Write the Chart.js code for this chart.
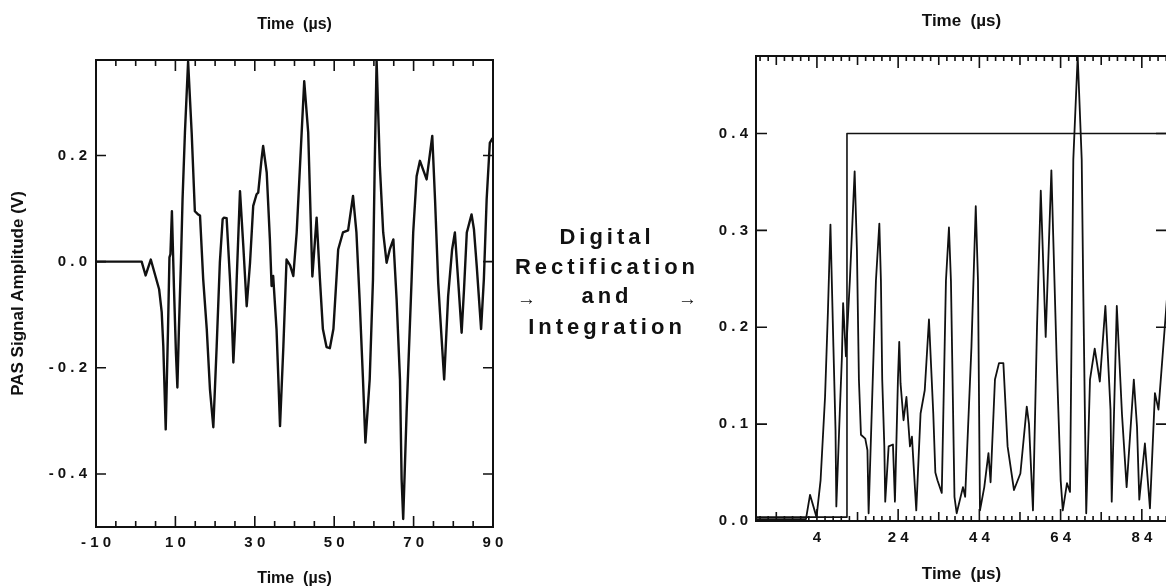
<!DOCTYPE html>
<html>
<head>
<meta charset="utf-8">
<script src="https://cdn.jsdelivr.net/npm/chart.js@4.4.1/dist/chart.umd.min.js"></script>
<style>
  html, body { margin: 0; padding: 0; background: #fff; width: 1166px; height: 588px; overflow: hidden; }
  .panel { position: absolute; top: 0; height: 588px; }
  #leftPanel { left: 0; width: 520px; }
  #rightPanel { left: 690px; width: 500px; }
  #caption {
    position: absolute; left: 512px; top: 222px; width: 190px;
    font: bold 22px 'Liberation Sans', Arial, sans-serif;
    letter-spacing: 4px; line-height: 29.5px; text-align: center; color: #111;
  }
  #caption .arrows { display: flex; justify-content: space-between; align-items: baseline; padding: 0 5px; }
  #caption .arr { font-weight: normal; font-size: 19px; letter-spacing: 0; position: relative; top: 2px; }
</style>
</head>
<body>
<div id="leftPanel" class="panel"><canvas id="leftChart"></canvas></div>
<div id="rightPanel" class="panel"><canvas id="rightChart"></canvas></div>
<div id="caption">
  <div>Digital</div>
  <div>Rectification</div>
  <div class="arrows"><span class="arr">&rarr;</span><span>and</span><span class="arr">&rarr;</span></div>
  <div>Integration</div>
</div>
<script>
const INK = '#111';
const FONT = "'Liberation Sans', Arial, Helvetica, sans-serif";

// raw PAS signal: time (µs) and amplitude (V)
const leftTime = [-10, 1.5, 2.5, 3.8, 5.9, 6.55, 6.95, 7.56, 8.14, 8.5, 8.75, 9.12, 9.65, 10.13, 10.5,
  10.88, 11.4, 11.8, 12.4, 13.2, 14.1, 14.9, 15.7, 16.2, 17.0, 17.9, 18.7, 19.55, 20.4, 21.2, 21.9,
  22.2, 22.9, 23.75, 24.26, 24.6, 25.0, 25.44, 26.27, 27.1, 27.96, 28.8, 29.6, 30.45, 30.86, 31.7,
  32.1, 33.0, 33.8, 34.23, 34.63, 35.47, 35.94, 36.35, 37.2, 38.0, 38.9, 39.7, 40.55, 41.8, 42.45,
  43.45, 44.3, 44.5, 45.57, 46.4, 47.15, 48.07, 48.9, 49.8, 50.56, 51.0, 52.2, 53.5, 54.74, 55.6,
  56.4, 57.25, 57.86, 58.94, 59.77, 60.2, 60.68, 61.5, 62.34, 63.2, 64.0, 64.9, 65.72, 66.57, 66.98,
  67.38, 68.24, 69.5, 69.9, 70.76, 71.6, 73.28, 74.7, 75.4, 76.2, 76.65, 77.7, 78.7, 79.7, 80.4,
  81.2, 82.1, 82.7, 83.4, 84.6, 85.2, 85.9, 87.0, 87.7, 88.4, 89.2, 89.9];
const leftAmp = [0, 0, -0.026, 0.004, -0.052, -0.095, -0.159, -0.316, -0.127, 0.008, 0.014, 0.095,
  -0.052, -0.171, -0.237, -0.128, 0.0, 0.117, 0.243, 0.377, 0.243, 0.095, 0.089, 0.087, -0.033,
  -0.127, -0.24, -0.312, -0.159, -0.001, 0.08, 0.083, 0.082, -0.033, -0.115, -0.19, -0.128, -0.033,
  0.133, 0.03, -0.084, -0.002, 0.105, 0.127, 0.13, 0.193, 0.218, 0.168, 0.042, -0.046, -0.027,
  -0.127, -0.222, -0.31, -0.159, 0.004, -0.007, -0.027, 0.055, 0.243, 0.34, 0.243, 0.023, -0.028,
  0.083, -0.033, -0.127, -0.161, -0.163, -0.127, -0.033, 0.023, 0.055, 0.059, 0.124, 0.055, -0.071,
  -0.222, -0.341, -0.222, -0.033, 0.18, 0.379, 0.18, 0.055, -0.002, 0.023, 0.042, -0.071, -0.222,
  -0.41, -0.485, -0.284, -0.033, 0.055, 0.161, 0.19, 0.155, 0.237, 0.117, -0.04, -0.096, -0.222,
  -0.065, 0.023, 0.055, -0.033, -0.134, -0.052, 0.055, 0.089, 0.061, -0.008, -0.127, -0.033, 0.117,
  0.224, 0.233];

// rectified signal
const rightTime = [-11, 1.3, 2.3, 3.9, 4.9, 6.0, 6.7, 7.33, 8.06, 8.58, 8.78, 9.62, 10.16, 10.45,
  11.14, 12.13, 13.29, 13.85, 14.34, 14.84, 15.9, 16.44, 16.73, 18.0, 18.53, 19.37, 19.76, 20.08,
  20.6, 20.82, 21.66, 22.72, 23.21, 23.95, 24.27, 24.59, 25.33, 26.04, 26.91, 27.4, 28.46, 29.52,
  30.55, 31.59, 32.65, 33.16, 33.68, 34.74, 35.77, 36.51, 37.0, 37.87, 38.41, 39.96, 40.5, 42.05,
  43.11, 43.66, 44.15, 45.21, 46.24, 46.76, 47.84, 48.83, 49.91, 50.95, 52.52, 54.1, 55.67, 56.22,
  57.2, 58.19, 59.12, 60.33, 61.73, 63.04, 64.02, 64.54, 65.58, 66.32, 67.13, 68.21, 69.2, 69.59,
  70.31, 71.24, 72.4, 73.66, 75.03, 76.29, 76.59, 77.84, 79.12, 80.26, 82.03, 82.82, 83.38, 84.76,
  86.0, 87.23, 88.1, 89.65, 90.2];
const rightAmp = [0.002, 0.002, 0.027, 0.004, 0.042, 0.128, 0.215, 0.306, 0.18, 0.094, 0.015, 0.111,
  0.17, 0.225, 0.17, 0.25, 0.361, 0.28, 0.146, 0.089, 0.085, 0.073, 0.008, 0.18, 0.248, 0.307, 0.248,
  0.146, 0.077, 0.02, 0.077, 0.079, 0.02, 0.146, 0.185, 0.142, 0.104, 0.128, 0.077, 0.087, 0.011,
  0.111, 0.135, 0.208, 0.111, 0.05, 0.042, 0.029, 0.248, 0.303, 0.248, 0.025, 0.008, 0.035, 0.025,
  0.18, 0.325, 0.248, 0.011, 0.035, 0.07, 0.04, 0.146, 0.163, 0.163, 0.077, 0.032, 0.049, 0.118, 0.1,
  0.011, 0.2, 0.341, 0.19, 0.362, 0.166, 0.042, 0.011, 0.039, 0.03, 0.373, 0.48, 0.373, 0.235, 0.008,
  0.146, 0.178, 0.144, 0.222, 0.115, 0.02, 0.222, 0.11, 0.035, 0.146, 0.097, 0.022, 0.08, 0.013,
  0.132, 0.115, 0.2, 0.23];

// integration gate
const gateTime = [-11, 11.4, 11.4, 90.2];
const gateLevel = [0.004, 0.004, 0.4, 0.4];

// labelled ticks
const leftXLabels = [-10, 10, 30, 50, 70, 90];
const leftYLabels = [-0.4, -0.2, 0.0, 0.2];
const rightXLabels = [4, 24, 44, 64, 84];
const rightYLabels = [0.0, 0.1, 0.2, 0.3, 0.4];

const toPoints = (xs, ys) => xs.map((x, i) => ({ x, y: ys[i] }));
// old plotter look: every character separated
const spaced = s => s.split('').join(' ');

// box frame with inward tick marks on all four sides
function frameTicks(xTicks, yTicks) {
  return {
    id: 'frameTicks',
    afterDatasetsDraw(chart) {
      const { ctx, chartArea: a, scales } = chart;
      ctx.save();
      ctx.strokeStyle = INK;
      ctx.lineWidth = 2;
      ctx.strokeRect(a.left, a.top, a.right - a.left, a.bottom - a.top);
      ctx.lineWidth = 1.6;
      ctx.beginPath();
      xTicks.forEach(([v, len]) => {
        const px = scales.x.getPixelForValue(v);
        ctx.moveTo(px, a.bottom); ctx.lineTo(px, a.bottom - len);
        ctx.moveTo(px, a.top); ctx.lineTo(px, a.top + len);
      });
      yTicks.forEach(([v, len]) => {
        const py = scales.y.getPixelForValue(v);
        ctx.moveTo(a.left, py); ctx.lineTo(a.left + len, py);
        ctx.moveTo(a.right, py); ctx.lineTo(a.right - len, py);
      });
      ctx.stroke();
      ctx.restore();
    }
  };
}

Chart.defaults.font.family = FONT;
Chart.defaults.font.weight = 'bold';
Chart.defaults.color = INK;

function axisTitle(text, size, pad) {
  return { display: true, text, color: INK, font: { size, weight: 'bold' }, padding: { top: pad, bottom: pad } };
}

function buildChart(canvasId, cfg) {
  return new Chart(document.getElementById(canvasId), {
    type: 'line',
    data: { datasets: cfg.datasets },
    options: {
      animation: false,
      responsive: true,
      maintainAspectRatio: false,
      layout: { padding: { right: cfg.padRight } },
      plugins: { legend: { display: false }, tooltip: { enabled: false } },
      elements: { point: { radius: 0 }, line: { tension: 0, borderJoinStyle: 'round' } },
      scales: {
        x: {
          type: 'linear', position: 'bottom', min: cfg.xMin, max: cfg.xMax,
          grid: { display: false, drawTicks: false }, border: { display: false },
          afterBuildTicks: ax => { ax.ticks = cfg.xLabels.map(value => ({ value })); },
          afterFit: ax => { ax.height = cfg.bottomH; },
          ticks: {
            autoSkip: false, maxRotation: 0, padding: cfg.xPad, color: INK,
            font: { size: 15, weight: 'bold' },
            callback: v => spaced(String(v))
          },
          title: axisTitle('Time  (\u00b5s)', cfg.titleSize, cfg.bottomTitlePad)
        },
        xTop: {
          type: 'linear', position: 'top', min: cfg.xMin, max: cfg.xMax,
          grid: { display: false, drawTicks: false }, border: { display: false },
          ticks: { display: false },
          afterFit: ax => { ax.height = cfg.topH; },
          title: axisTitle('Time  (\u00b5s)', cfg.titleSize, cfg.topTitlePad)
        },
        y: {
          type: 'linear', position: 'left', min: cfg.yMin, max: cfg.yMax,
          grid: { display: false, drawTicks: false }, border: { display: false },
          afterBuildTicks: ax => { ax.ticks = cfg.yLabels.map(value => ({ value })); },
          afterFit: ax => { ax.width = cfg.leftW; },
          ticks: {
            autoSkip: false, padding: cfg.yPad, color: INK,
            font: { size: 15, weight: 'bold' },
            callback: v => spaced(v.toFixed(1))
          },
          title: cfg.yTitle ? axisTitle(cfg.yTitle, 17, 8) : { display: false }
        }
      }
    },
    plugins: [frameTicks(cfg.xTickMarks, cfg.yTickMarks)]
  });
}

// tick marks: minor every 5 µs on the raw signal, every 2 µs on the rectified one
const leftXTickMarks = [];
for (let v = -10; v <= 90; v += 5) leftXTickMarks.push([v, leftXLabels.includes(v) ? 11 : 6]);
const rightXTickMarks = [];
for (let v = -10; v <= 90; v += 2) {
  const len = rightXLabels.includes(v) ? 12 : ((v - 4) % 10 === 0 ? 9 : 5);
  rightXTickMarks.push([v, len]);
}

buildChart('leftChart', {
  datasets: [{
    data: toPoints(leftTime, leftAmp), xAxisID: 'x', yAxisID: 'y',
    borderColor: INK, borderWidth: 2.4
  }],
  xMin: -10, xMax: 90, yMin: -0.5, yMax: 0.38,
  xLabels: leftXLabels, yLabels: leftYLabels,
  leftW: 96, padRight: 27, topH: 60, bottomH: 61,
  xPad: 7, yPad: 9, titleSize: 16, topTitlePad: 15, bottomTitlePad: 0,
  yTitle: 'PAS Signal Amplitude (V)',
  xTickMarks: leftXTickMarks,
  yTickMarks: leftYLabels.map(v => [v, 10])
});

buildChart('rightChart', {
  datasets: [
    { data: toPoints(rightTime, rightAmp), xAxisID: 'x', yAxisID: 'y', borderColor: INK, borderWidth: 1.8 },
    { data: toPoints(gateTime, gateLevel), xAxisID: 'x', yAxisID: 'y', borderColor: INK, borderWidth: 1.6 }
  ],
  xMin: -11, xMax: 90.2, yMin: 0, yMax: 0.48,
  xLabels: rightXLabels, yLabels: rightYLabels,
  leftW: 66, padRight: 23, topH: 56, bottomH: 67,
  xPad: 8, yPad: 8, titleSize: 17, topTitlePad: 11, bottomTitlePad: 3,
  yTitle: null,
  xTickMarks: rightXTickMarks,
  yTickMarks: rightYLabels.map(v => [v, 11])
});
</script>
</body>
</html>
